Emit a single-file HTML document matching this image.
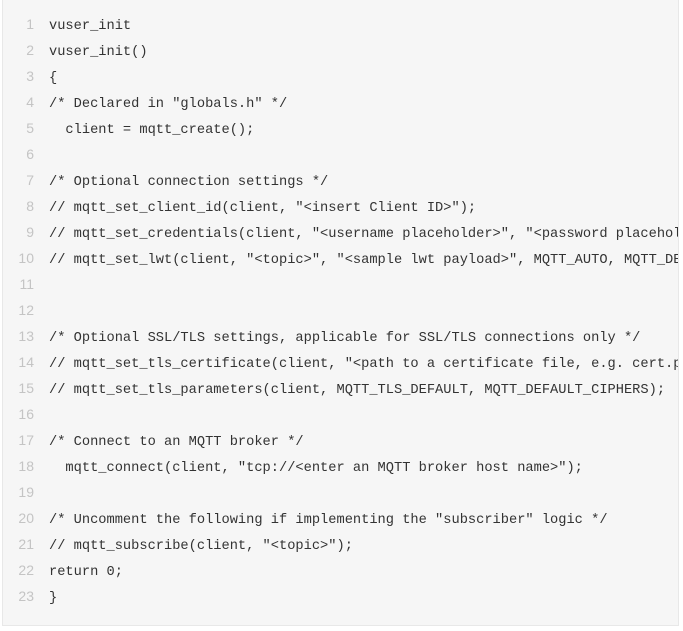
<!DOCTYPE html>
<html><head><meta charset="utf-8"><style>
body{margin:0;width:683px;height:631px;background:#fff;overflow:hidden}
.box{position:absolute;left:2px;top:-1px;width:675px;height:625px;background:#f6f6f6;border:1px solid #e8e8e8;overflow:hidden}
.l{position:absolute;left:0;height:26px;line-height:26px;white-space:pre}
.n{position:absolute;left:0;top:-3px;width:31px;text-align:right;font:14px "Liberation Sans",sans-serif;color:#c4c4c4}
.c{position:absolute;left:46px;font:13.7px "Liberation Mono",monospace;color:#333}
</style></head><body><div class="box">
<div class="l" style="top:19px"><span class="n">1</span><span class="c">vuser_init</span></div>
<div class="l" style="top:45px"><span class="n">2</span><span class="c">vuser_init()</span></div>
<div class="l" style="top:71px"><span class="n">3</span><span class="c">{</span></div>
<div class="l" style="top:97px"><span class="n">4</span><span class="c">/* Declared in "globals.h" */</span></div>
<div class="l" style="top:123px"><span class="n">5</span><span class="c">  client = mqtt_create();</span></div>
<div class="l" style="top:149px"><span class="n">6</span><span class="c"></span></div>
<div class="l" style="top:175px"><span class="n">7</span><span class="c">/* Optional connection settings */</span></div>
<div class="l" style="top:201px"><span class="n">8</span><span class="c">// mqtt_set_client_id(client, "&lt;insert Client ID&gt;");</span></div>
<div class="l" style="top:227px"><span class="n">9</span><span class="c">// mqtt_set_credentials(client, "&lt;username placeholder&gt;", "&lt;password placeholder&gt;");</span></div>
<div class="l" style="top:253px"><span class="n">10</span><span class="c">// mqtt_set_lwt(client, "&lt;topic&gt;", "&lt;sample lwt payload&gt;", MQTT_AUTO, MQTT_DEFAULT);</span></div>
<div class="l" style="top:279px"><span class="n">11</span><span class="c"></span></div>
<div class="l" style="top:305px"><span class="n">12</span><span class="c"></span></div>
<div class="l" style="top:331px"><span class="n">13</span><span class="c">/* Optional SSL/TLS settings, applicable for SSL/TLS connections only */</span></div>
<div class="l" style="top:357px"><span class="n">14</span><span class="c">// mqtt_set_tls_certificate(client, "&lt;path to a certificate file, e.g. cert.pem&gt;");</span></div>
<div class="l" style="top:383px"><span class="n">15</span><span class="c">// mqtt_set_tls_parameters(client, MQTT_TLS_DEFAULT, MQTT_DEFAULT_CIPHERS);</span></div>
<div class="l" style="top:409px"><span class="n">16</span><span class="c"></span></div>
<div class="l" style="top:435px"><span class="n">17</span><span class="c">/* Connect to an MQTT broker */</span></div>
<div class="l" style="top:461px"><span class="n">18</span><span class="c">  mqtt_connect(client, "tcp://&lt;enter an MQTT broker host name&gt;");</span></div>
<div class="l" style="top:487px"><span class="n">19</span><span class="c"></span></div>
<div class="l" style="top:513px"><span class="n">20</span><span class="c">/* Uncomment the following if implementing the "subscriber" logic */</span></div>
<div class="l" style="top:539px"><span class="n">21</span><span class="c">// mqtt_subscribe(client, "&lt;topic&gt;");</span></div>
<div class="l" style="top:565px"><span class="n">22</span><span class="c">return 0;</span></div>
<div class="l" style="top:591px"><span class="n">23</span><span class="c">}</span></div>
</div></body></html>
